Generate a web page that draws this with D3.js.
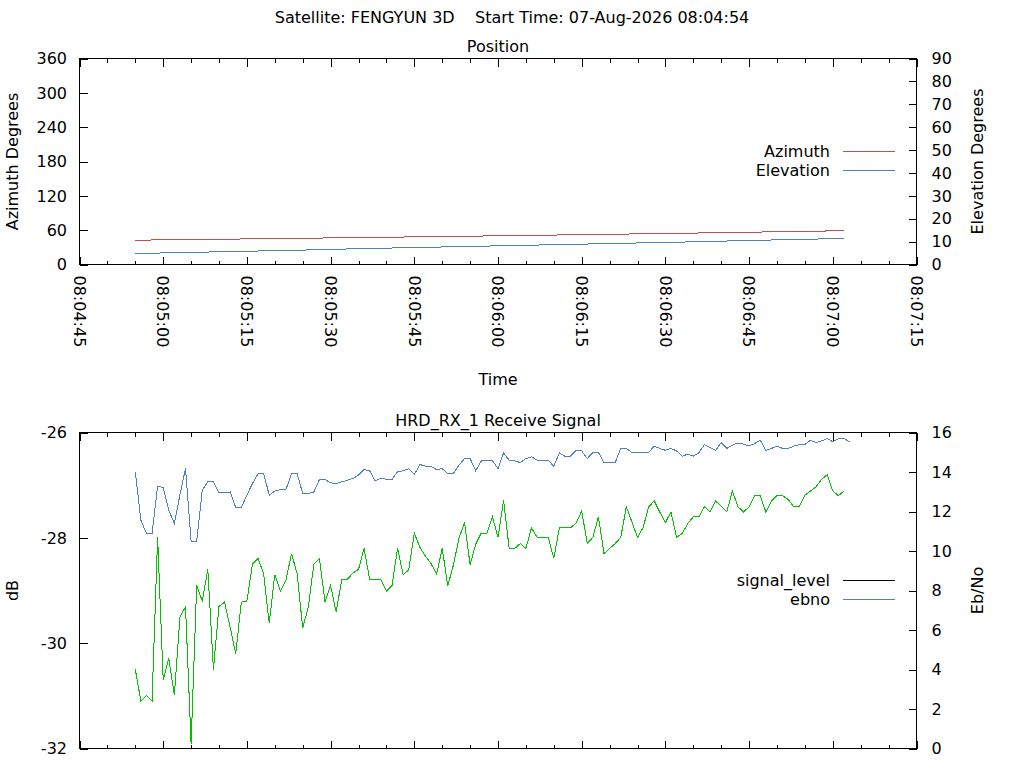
<!DOCTYPE html>
<meta charset="utf-8">
<title>FENGYUN 3D pass</title>
<style>
  body { margin: 0; background: #fff; }
  svg text { font-family: "DejaVu Sans", sans-serif; font-size: 16px; fill: #000; }
</style>
<body>
<script src="https://d3js.org/d3.v7.min.js"></script>
<script>
// header
const satellite = "FENGYUN 3D";
const startTime = "07-Aug-2026 08:04:54";
const axisStart = "08:04:45", axisEnd = "08:07:15";

// position panel
const posTimes = ["08:04:55","08:05:05","08:05:15","08:05:25","08:05:35","08:05:45","08:05:55",
                  "08:06:05","08:06:15","08:06:25","08:06:35","08:06:45","08:06:55","08:07:02"];
const azimuth   = [42.5, 43.6, 44.7, 45.9, 47.0, 48.3, 49.5, 50.8, 52.1, 53.5, 54.9, 56.4, 58.0, 59.0];
const elevation = [4.8, 5.3, 5.8, 6.3, 6.9, 7.4, 7.9, 8.4, 8.9, 9.4, 9.9, 10.5, 11.0, 11.4];

// receive signal panel, one sample per second from sigStart
const sigStart = "08:04:55";
const ebno = [
  14.01, 11.56, 10.89, 10.89, 13.28, 13.21, 12.07, 11.39, 12.85, 14.18,
  10.50, 10.50, 13.08, 13.50, 13.50, 12.94, 12.94, 12.99, 12.20, 12.20,
  12.83, 13.42, 13.92, 13.92, 12.83, 13.03, 13.11, 13.11, 13.92, 13.92,
  12.91, 12.91, 12.99, 13.62, 13.62, 13.45, 13.42, 13.50, 13.58, 13.67,
  13.84, 14.12, 14.06, 13.55, 13.70, 13.62, 13.62, 14.02, 14.06, 14.16,
  13.87, 14.38, 14.29, 14.29, 14.12, 14.17, 13.92, 13.92, 14.34, 14.68,
  14.68, 14.06, 14.56, 14.60, 14.58, 14.17, 14.97, 14.60, 14.56, 14.48,
  14.68, 14.77, 14.60, 14.60, 14.60, 14.29, 14.97, 14.80, 14.80, 15.10,
  15.07, 14.68, 14.99, 14.99, 14.48, 14.48, 14.48, 15.19, 15.19, 14.99,
  14.99, 14.99, 14.99, 15.31, 15.19, 15.10, 15.19, 15.07, 14.80, 14.90,
  14.80, 14.97, 15.39, 15.24, 15.10, 15.49, 15.19, 15.36, 15.47, 15.41,
  15.32, 15.44, 15.61, 15.10, 15.19, 15.31, 15.19, 15.19, 15.31, 15.39,
  15.39, 15.61, 15.49, 15.58, 15.69, 15.53, 15.69, 15.69, 15.53];
const signalLevel = [
  -30.50, -31.10, -30.99, -31.10, -27.99, -30.70, -30.29, -30.99, -29.50, -29.31,
  -31.91, -28.90, -29.20, -28.60, -30.50, -29.30, -29.22, -29.70, -30.20, -29.22,
  -29.20, -28.50, -28.39, -28.68, -29.62, -28.70, -29.01, -28.80, -28.30, -28.68,
  -29.71, -29.32, -28.50, -28.39, -29.22, -28.91, -29.41, -28.79, -28.79, -28.67,
  -28.60, -28.20, -28.79, -28.79, -28.79, -29.01, -28.91, -28.20, -28.70, -28.61,
  -27.91, -28.18, -28.35, -28.49, -28.69, -28.20, -28.91, -28.52, -28.01, -27.71,
  -28.51, -28.12, -27.91, -27.91, -27.60, -27.99, -27.29, -28.20, -28.20, -28.11,
  -28.20, -27.81, -27.99, -27.99, -27.99, -28.39, -27.81, -27.81, -27.81, -27.72,
  -27.49, -28.11, -27.99, -27.60, -28.30, -28.20, -28.11, -27.99, -27.41, -27.70,
  -27.99, -27.81, -27.41, -27.30, -27.51, -27.71, -27.51, -27.99, -27.92, -27.73,
  -27.60, -27.60, -27.41, -27.51, -27.30, -27.40, -27.51, -27.11, -27.41, -27.51,
  -27.41, -27.20, -27.20, -27.51, -27.30, -27.20, -27.20, -27.27, -27.41, -27.41,
  -27.19, -27.11, -27.03, -26.89, -26.80, -27.11, -27.20, -27.11];

const azTicks = [0, 60, 120, 180, 240, 300, 360];
const elTicks = [0, 10, 20, 30, 40, 50, 60, 70, 80, 90];
const dbTicks = [-32, -30, -28, -26];
const ebTicks = [0, 2, 4, 6, 8, 10, 12, 14, 16];

const RED = "#c0504d", BLUE = "#4f81bd", GREEN = "#00c000";

const parse = d3.timeParse("%H:%M:%S");
const fmt = d3.timeFormat("%H:%M:%S");
const X0 = 79.5, X1 = 916.5;
const x = d3.scaleTime().domain([parse(axisStart), parse(axisEnd)]).range([X0, X1]);

const svg = d3.select("body").append("svg").attr("width", 1024).attr("height", 768);

svg.append("text").attr("x", 512).attr("y", 23).attr("text-anchor", "middle")
  .style("white-space", "pre")
  .text(`Satellite: ${satellite}    Start Time: ${startTime}`);

function panel(o) {
  const g = svg.append("g");
  const yL = d3.scaleLinear().domain(o.leftDomain).range([o.bottom, o.top]);
  const yR = d3.scaleLinear().domain(o.rightDomain).range([o.bottom, o.top]);

  g.append("text").attr("x", (X0 + X1) / 2).attr("y", o.top - 6.5).attr("text-anchor", "middle").text(o.title);

  // x ticks, mirrored on top
  const major = x.ticks(d3.timeSecond.every(15));
  const minor = x.ticks(d3.timeSecond.every(5));
  const tk = g.append("g").attr("stroke", "#000").attr("shape-rendering", "crispEdges");
  minor.forEach(t => {
    const len = major.some(m => +m === +t) ? 8 : 4;
    const px = Math.round(x(t)) + 0.5;
    tk.append("line").attr("x1", px).attr("x2", px).attr("y1", o.bottom).attr("y2", o.bottom - len);
    tk.append("line").attr("x1", px).attr("x2", px).attr("y1", o.top).attr("y2", o.top + len);
  });
  o.leftTicks.forEach(v => {
    const py = Math.round(yL(v)) + 0.5;
    tk.append("line").attr("x1", X0).attr("x2", X0 + 8).attr("y1", py).attr("y2", py);
    g.append("text").attr("x", 67).attr("y", yL(v)).attr("dy", "0.36em")
      .attr("text-anchor", "end").text(v);
  });
  o.rightTicks.forEach(v => {
    const py = Math.round(yR(v)) + 0.5;
    tk.append("line").attr("x1", X1 - 8).attr("x2", X1).attr("y1", py).attr("y2", py);
    g.append("text").attr("x", 931.5).attr("y", yR(v)).attr("dy", "0.36em").text(v);
  });

  if (o.xLabels) {
    major.forEach(t => {
      g.append("text").attr("transform", `translate(${x(t)},${o.bottom + 11}) rotate(90)`)
        .attr("dy", "0.36em").text(fmt(t));
    });
  }

  g.append("text").attr("transform", `translate(18,${(o.top + o.bottom) / 2}) rotate(-90)`)
    .attr("text-anchor", "middle").text(o.leftTitle);
  g.append("text").attr("transform", `translate(983,${(o.top + o.bottom) / 2}) rotate(-90)`)
    .attr("text-anchor", "middle").text(o.rightTitle);

  g.append("rect").attr("x", X0).attr("y", o.top).attr("width", X1 - X0).attr("height", o.bottom - o.top)
    .attr("fill", "none").attr("stroke", "#000").attr("shape-rendering", "crispEdges");

  o.series.forEach(s => {
    const y = s.axis === "left" ? yL : yR;
    g.append("path").datum(s.data)
      .attr("fill", "none").attr("stroke", s.color).attr("stroke-width", 1)
      .attr("shape-rendering", "crispEdges")
      .attr("d", d3.line().x(d => x(d.t)).y(d => y(d.v)));
  });

  o.legend.forEach((l, i) => {
    const ly = o.legendY + i * 19.3;
    g.append("text").attr("x", 830).attr("y", ly + 5.5).attr("text-anchor", "end").text(l.name);
    g.append("line").attr("x1", 843).attr("x2", 895).attr("y1", Math.round(ly) + 0.5).attr("y2", Math.round(ly) + 0.5)
      .attr("stroke", l.color).attr("shape-rendering", "crispEdges");
  });
}

const posAz = posTimes.map((t, i) => ({ t: parse(t), v: azimuth[i] }));
const posEl = posTimes.map((t, i) => ({ t: parse(t), v: elevation[i] }));
const t0 = parse(sigStart);
const ebData = ebno.map((v, i) => ({ t: d3.timeSecond.offset(t0, i), v }));
const slData = signalLevel.map((v, i) => ({ t: d3.timeSecond.offset(t0, i), v }));

panel({
  title: "Position", top: 58.5, bottom: 264.5,
  leftDomain: [0, 360], rightDomain: [0, 90],
  leftTicks: azTicks, rightTicks: elTicks,
  leftTitle: "Azimuth Degrees", rightTitle: "Elevation Degrees",
  xLabels: true,
  series: [
    { data: posAz, axis: "left", color: RED },
    { data: posEl, axis: "right", color: BLUE }
  ],
  legendY: 151,
  legend: [{ name: "Azimuth", color: RED }, { name: "Elevation", color: BLUE }]
});

svg.append("text").attr("x", (X0 + X1) / 2).attr("y", 385).attr("text-anchor", "middle").text("Time");

panel({
  title: "HRD_RX_1 Receive Signal", top: 432.5, bottom: 748.5,
  leftDomain: [-32, -26], rightDomain: [0, 16],
  leftTicks: dbTicks, rightTicks: ebTicks,
  leftTitle: "dB", rightTitle: "Eb/No",
  xLabels: false,
  series: [
    { data: slData, axis: "left", color: GREEN },
    { data: ebData, axis: "right", color: BLUE }
  ],
  legendY: 580,
  legend: [{ name: "signal_level", color: "#000" }, { name: "ebno", color: BLUE }]
});
</script>
